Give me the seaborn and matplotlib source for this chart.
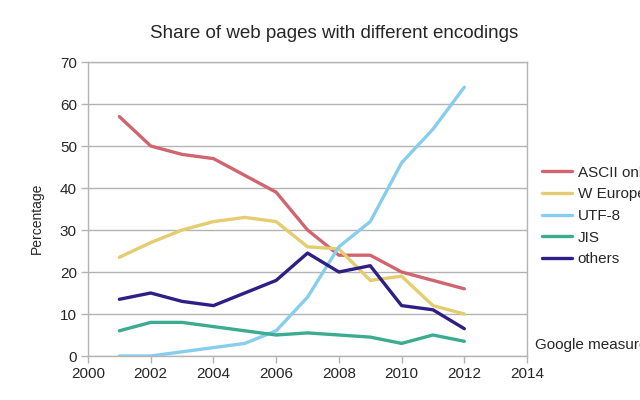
import matplotlib
matplotlib.use('Agg')
import matplotlib.pyplot as plt
import pandas as pd
import seaborn as sns

years = [2001, 2002, 2003, 2004, 2005, 2006, 2007, 2008, 2009, 2010, 2011, 2012]
ascii_only = [57, 50, 48, 47, 43, 39, 30, 24, 24, 20, 18, 16]
w_europe = [23.5, 27, 30, 32, 33, 32, 26, 25.5, 18, 19, 12, 10]
utf8 = [0, 0, 1, 2, 3, 6, 14, 26, 32, 46, 54, 64]
jis = [6, 8, 8, 7, 6, 5, 5.5, 5, 4.5, 3, 5, 3.5]
others = [13.5, 15, 13, 12, 15, 18, 24.5, 20, 21.5, 12, 11, 6.5]
series_names = ['ASCII only', 'W European', 'UTF-8', 'JIS', 'others']
colors = ['#d0656f', '#e4cd6e', '#87ceee', '#3bab92', '#2e1e86']

df = pd.DataFrame({'Year': years, 'ASCII only': ascii_only, 'W European': w_europe,
                   'UTF-8': utf8, 'JIS': jis, 'others': others})
long_df = df.melt(id_vars='Year', var_name='Encoding', value_name='Percentage')

sns.set_style('white')
plt.rcParams['font.family'] = ['Liberation Sans', 'DejaVu Sans']

fig = plt.figure(figsize=(6.4, 4), dpi=100)
ax = fig.add_axes([0.1375, 0.11, 0.686, 0.735])

sns.lineplot(data=long_df, x='Year', y='Percentage', hue='Encoding',
             hue_order=series_names, palette=colors, linewidth=2.4, ax=ax)

ax.set_xlim(2000, 2014)
ax.set_ylim(0, 70)
ax.set_xticks(range(2000, 2015, 2))
ax.set_yticks(range(0, 71, 10))
ax.yaxis.grid(True, color='#b3b3b3', linewidth=1)
ax.set_axisbelow(True)
for sp in ax.spines.values():
    sp.set_color('#b3b3b3')
    sp.set_linewidth(1)
ax.tick_params(axis='both', labelsize=11, length=5, width=1, color='#b3b3b3',
               direction='out', left=True, bottom=True, pad=3)
ax.set_xlabel('')
ax.set_ylabel('Percentage', fontsize=10)
ax.yaxis.set_label_coords(-0.101, 0.47)
fig.text(0.522, 0.915, 'Share of web pages with different encodings',
         fontsize=13.5, ha='center', va='center')

handles, labels = ax.get_legend_handles_labels()
ax.legend(handles, labels, loc='upper left', bbox_to_anchor=(1.02, 0.668),
          frameon=False, fontsize=11, handlelength=2.0, handletextpad=0.35,
          labelspacing=0.5, borderaxespad=0)

fig.text(0.836, 0.137, 'Google measurements', fontsize=11, va='center', ha='left')

fig.savefig('out.png', dpi=100)
